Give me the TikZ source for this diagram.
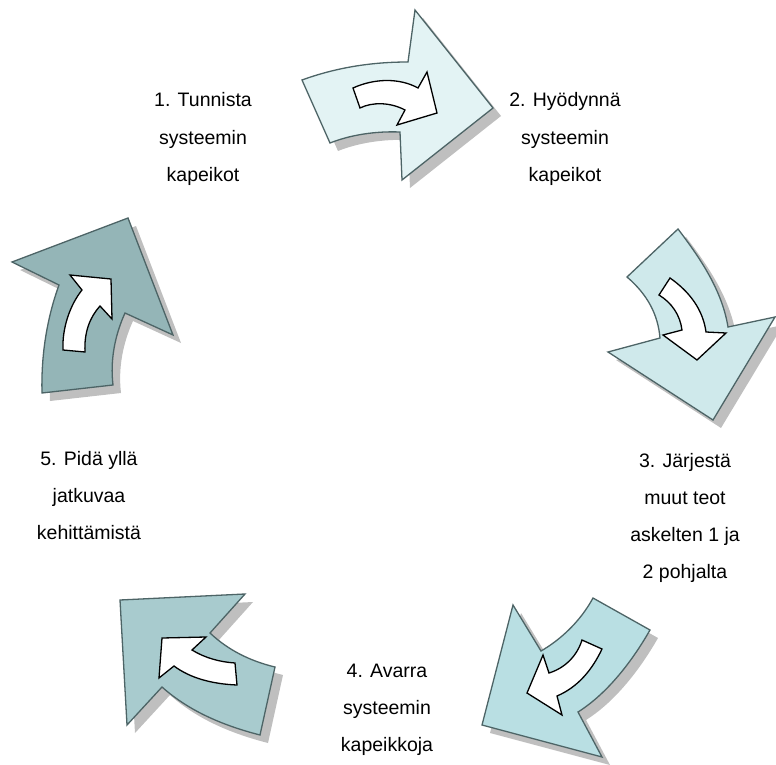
\documentclass[tikz,border=0pt]{standalone}
\usepackage{fontspec}
\setmainfont{Liberation Sans}
\definecolor{outl}{HTML}{4D6466}
\definecolor{cA}{HTML}{E3F3F4}
\definecolor{cB}{HTML}{CFE9EB}
\definecolor{cC}{HTML}{B9DFE3}
\definecolor{cD}{HTML}{A8CBCE}
\definecolor{cE}{HTML}{94B5B7}
\definecolor{shad}{HTML}{BFBFBF}
\tikzset{
  bigarrow/.style={draw=outl, line width=1.3pt, line join=miter},
  shadowarrow/.style={fill=shad, draw=none, shift={(8,8)}},
  smallarrow/.style={fill=white, draw=black, line width=1.3pt, line join=miter},
  lbl/.style={anchor=base, inner sep=0pt, font=\fontsize{19.5}{23}\selectfont, text=black}
}
\def\pathA{(302,80) .. controls (335,68) and (370,62) .. (408,62) -- (415,10) -- (493,108) -- (402,180) -- (400,132) .. controls (375,131) and (350,135) .. (330,143) -- cycle}
\def\innerA{(353,88) .. controls (375,78) and (400,78) .. (418,88) -- (427,72) -- (437,113) -- (397,125) -- (405,110) .. controls (390,102) and (372,102) .. (360,108) -- cycle}
\def\pathB{(627,277) -- (678,229) .. controls (700,258) and (722,290) .. (728,327) -- (775,317) -- (713,420) -- (608,352) -- (660,338) .. controls (658,315) and (648,295) .. (627,277) -- cycle}
\def\innerB{(659,295) -- (670,278) .. controls (690,292) and (703,310) .. (706,332) -- (726,333) -- (697,360) -- (663,335) -- (682,330) .. controls (680,315) and (672,303) .. (659,295) -- cycle}
\def\pathC{(593,598) -- (650,630) .. controls (630,665) and (605,695) .. (578,712) -- (602,757) -- (482,725) -- (513,605) -- (541,651) .. controls (560,640) and (580,622) .. (593,598) -- cycle}
\def\innerC{(582,640) -- (602,649) .. controls (592,670) and (578,687) .. (557,696) -- (562,715) -- (527,693) -- (543,655) -- (549,673) .. controls (565,668) and (577,656) .. (582,640) -- cycle}
\def\pathD{(120,600) -- (245,594) -- (210,633) .. controls (228,650) and (250,661) .. (275,667) -- (260,735) .. controls (225,726) and (190,712) .. (162,687) -- (127,725) -- cycle}
\def\innerD{(162,638) -- (206,637) -- (192,650) .. controls (205,658) and (220,662) .. (235,663) -- (237,685) .. controls (212,684) and (190,678) .. (174,666) -- (159,678) -- cycle}
\def\pathE{(12,262) -- (128,218) -- (173,335) -- (125,313) .. controls (115,335) and (110,360) .. (113,385) -- (42,393) .. controls (41,355) and (47,318) .. (59,285) -- cycle}
\def\innerE{(63,350) -- (85,352) .. controls (84,332) and (90,317) .. (100,306) -- (112,319) -- (111,279) -- (70,275) -- (82,290) .. controls (70,305) and (62,328) .. (63,350) -- cycle}
\begin{document}
\begin{tikzpicture}[x=1pt, y=-1pt]
\useasboundingbox (0,0) rectangle (776,765);
% shadows
\fill[shadowarrow] \pathA;
\fill[shadowarrow] \pathB;
\fill[shadowarrow] \pathC;
\fill[shadowarrow] \pathD;
\fill[shadowarrow] \pathE;
% arrows
\filldraw[bigarrow, fill=cA] \pathA;
\filldraw[smallarrow] \innerA;
\filldraw[bigarrow, fill=cB] \pathB;
\filldraw[smallarrow] \innerB;
\filldraw[bigarrow, fill=cC] \pathC;
\filldraw[smallarrow] \innerC;
\filldraw[bigarrow, fill=cD] \pathD;
\filldraw[smallarrow] \innerD;
\filldraw[bigarrow, fill=cE] \pathE;
\filldraw[smallarrow] \innerE;
% labels
\node[lbl] (t1a) at (203,107) {1. Tunnista};
\node[lbl] (t1b) at (203,144) {systeemin};
\node[lbl] (t1c) at (203,181) {kapeikot};
\node[lbl] (t2a) at (565,107) {2. Hyödynnä};
\node[lbl] (t2b) at (565,144) {systeemin};
\node[lbl] (t2c) at (565,181) {kapeikot};
\node[lbl] (t3a) at (685,467) {3. Järjestä};
\node[lbl] (t3b) at (685,504) {muut teot};
\node[lbl] (t3c) at (685,541) {askelten 1 ja};
\node[lbl] (t3d) at (685,578) {2 pohjalta};
\node[lbl] (t4a) at (387,677) {4. Avarra};
\node[lbl] (t4b) at (387,714) {systeemin};
\node[lbl] (t4c) at (387,751) {kapeikkoja};
\node[lbl] (t5a) at (89,465) {5. Pidä yllä};
\node[lbl] (t5b) at (89,502) {jatkuvaa};
\node[lbl] (t5c) at (89,539) {kehittämistä};
\end{tikzpicture}
\end{document}
